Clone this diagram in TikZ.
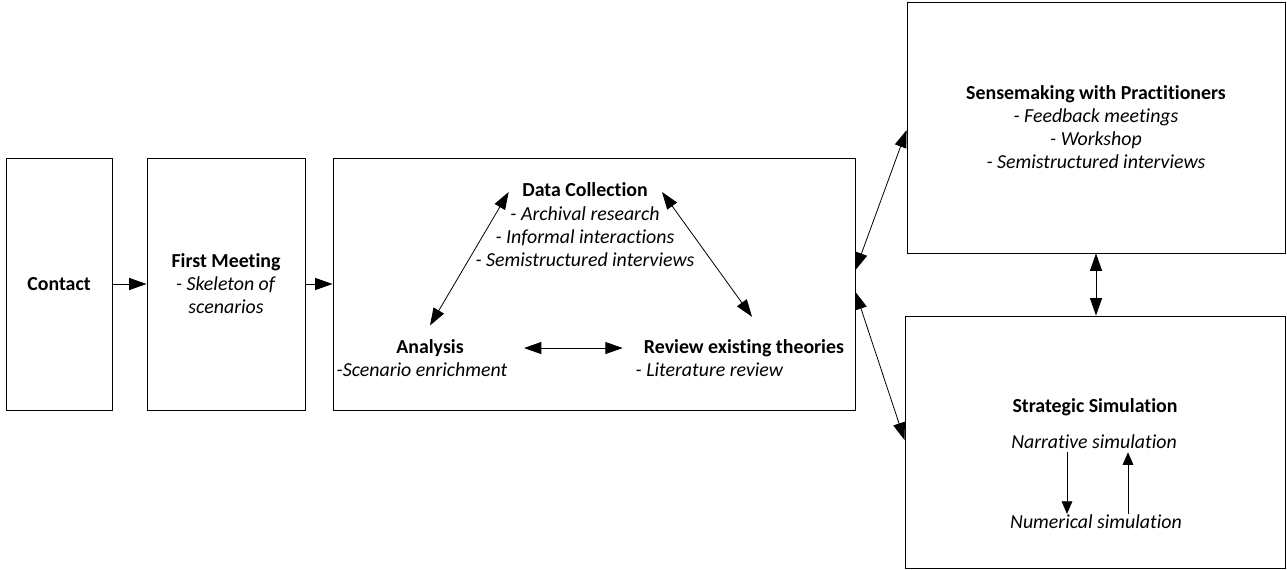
\documentclass[tikz,border=0pt]{standalone}
\usepackage{fontspec}
\setmainfont{Carlito}[Ligatures=NoCommon]
\usetikzlibrary{positioning,arrows.meta}

\begin{document}
\begin{tikzpicture}[
    x=0.75pt, y=-0.75pt,
    >={Triangle[length=13pt,width=9pt]},
    every node/.style={font=\fontsize{14.9}{17.25}\selectfont, align=center, inner sep=0pt},
    box/.style={draw, line width=0.7pt},
    ttl/.style={anchor=base, text depth=3pt, font=\fontsize{14.9}{17.25}\selectfont\bfseries},
    itm/.style={font=\fontsize{14.9}{17.25}\selectfont\itshape},
    arr/.style={->, line width=0.6pt},
    dbl/.style={<->, line width=0.6pt},
    small/.style={->, line width=0.6pt, >={Triangle[length=9.5pt,width=8pt]}}]

    \useasboundingbox (0,0) rectangle (1287,570);

    % the steps
    \node[box, minimum width=79.5pt, minimum height=189pt] (contact) at (59,284) {\textbf{Contact}};
    \node[box, minimum width=118.5pt, minimum height=189pt] (first) at (226,284)
        {\textbf{First Meeting}\\\textit{- Skeleton of}\\\textit{scenarios}};
    \node[box, minimum width=391.5pt, minimum height=189pt] (mid) at (594,284) {};
    \node[box, minimum width=283.5pt, minimum height=188.25pt] (sense) at (1096,127.5)
        {\textbf{Sensemaking with Practitioners}\\\textit{- Feedback meetings}\\\textit{- Workshop}\\\textit{- Semistructured interviews}};
    \node[box, minimum width=285pt, minimum height=189pt] (strat) at (1095,442) {};

    % inside the middle step
    \node[ttl] (dtitle) at (585,197) {Data Collection};
        \node[itm, below=4pt of dtitle] (ditems) {- Archival research\\- Informal interactions\\- Semistructured interviews};
    \node[ttl] (atitle) at (430,353) {Analysis};
        \node[itm, below=4pt of atitle, xshift=-6pt] (aitems) {-Scenario enrichment};
    \node[ttl] (rtitle) at (744,353) {Review existing theories};
        \node[itm, below=4pt of rtitle, xshift=-26pt] (ritems) {- Literature review};

    % inside the simulation step
    \node[ttl] (stitle) at (1095,412) {Strategic Simulation};
    \node[itm, anchor=base, text depth=3pt] (narr) at (1094,448) {Narrative simulation};
    \node[itm, anchor=base] (numer) at (1096,528) {Numerical simulation};

    % connectors
    \draw[arr] (contact) -- (first);
    \draw[arr] (first) -- (mid);
    \draw[dbl] ([yshift=10.5pt]mid.east) -- ([yshift=-2pt]sense.west);
    \draw[dbl] ([yshift=-6pt]mid.east) -- ([yshift=1.5pt]strat.west);
    \draw[dbl] (sense.south) -- (sense.south |- strat.north);

    \draw[dbl] ([xshift=-10pt]dtitle.west) -- ([yshift=10pt]atitle.north);
    \draw[dbl] ([xshift=10.5pt]dtitle.east) -- ([xshift=6pt,yshift=16.5pt]rtitle.north);
    \draw[dbl] ([xshift=45pt]atitle.east) -- ([xshift=-15.75pt]rtitle.west);

    \draw[small] ([xshift=-20.25pt]narr.south) -- ([xshift=-21.75pt]numer.north);
    \draw[small] ([xshift=24pt]numer.north) -- ([xshift=25.5pt]narr.south);

\end{tikzpicture}
\end{document}
